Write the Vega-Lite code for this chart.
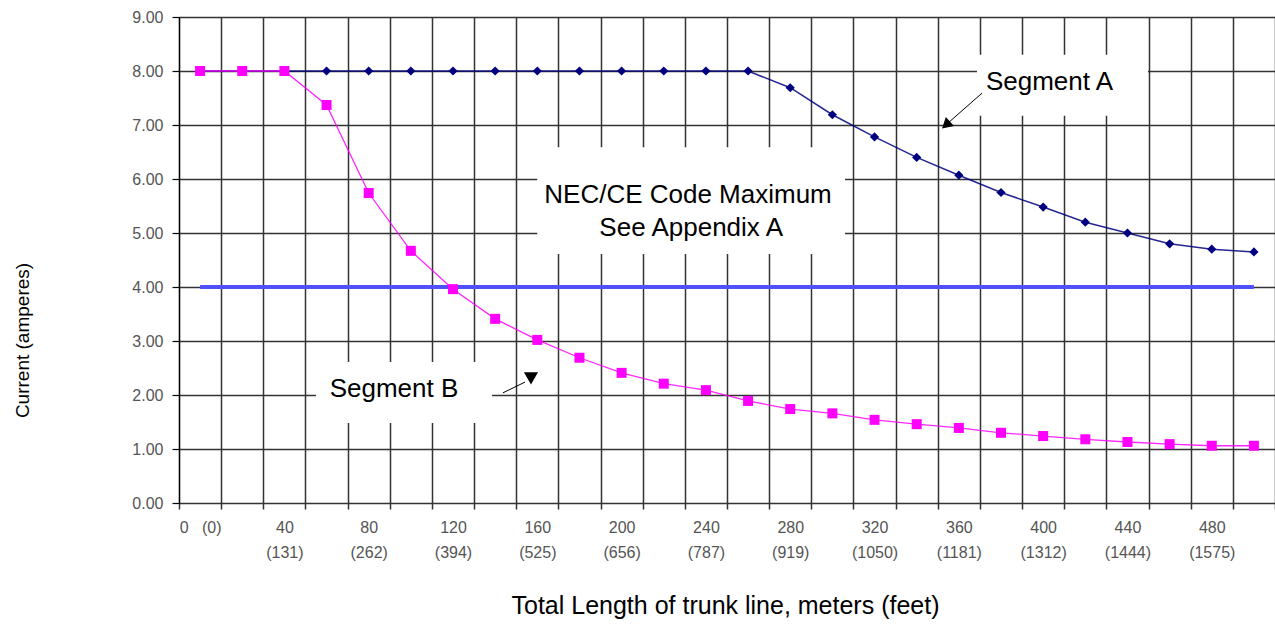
{
  "$schema": "https://vega.github.io/schema/vega-lite/v6.json",
  "width": 1096,
  "height": 486,
  "autosize": {"type": "none"},
  "padding": {"left": 179, "top": 17, "right": 0, "bottom": 130},
  "background": "white",
  "config": {"view": {"stroke": null}, "font": "Liberation Sans"},
  "datasets": {
    "series": [
      {"m": 0, "seg": "A", "amps": 8.0}, {"m": 20, "seg": "A", "amps": 8.0}, {"m": 40, "seg": "A", "amps": 8.0},
      {"m": 60, "seg": "A", "amps": 8.0}, {"m": 80, "seg": "A", "amps": 8.0}, {"m": 100, "seg": "A", "amps": 8.0},
      {"m": 120, "seg": "A", "amps": 8.0}, {"m": 140, "seg": "A", "amps": 8.0}, {"m": 160, "seg": "A", "amps": 8.0},
      {"m": 180, "seg": "A", "amps": 8.0}, {"m": 200, "seg": "A", "amps": 8.0}, {"m": 220, "seg": "A", "amps": 8.0},
      {"m": 240, "seg": "A", "amps": 8.0}, {"m": 260, "seg": "A", "amps": 8.0}, {"m": 280, "seg": "A", "amps": 7.69},
      {"m": 300, "seg": "A", "amps": 7.19}, {"m": 320, "seg": "A", "amps": 6.78}, {"m": 340, "seg": "A", "amps": 6.40},
      {"m": 360, "seg": "A", "amps": 6.07}, {"m": 380, "seg": "A", "amps": 5.75}, {"m": 400, "seg": "A", "amps": 5.48},
      {"m": 420, "seg": "A", "amps": 5.20}, {"m": 440, "seg": "A", "amps": 5.00}, {"m": 460, "seg": "A", "amps": 4.80},
      {"m": 480, "seg": "A", "amps": 4.70}, {"m": 500, "seg": "A", "amps": 4.65},
      {"m": 0, "seg": "B", "amps": 8.0}, {"m": 20, "seg": "B", "amps": 8.0}, {"m": 40, "seg": "B", "amps": 8.0},
      {"m": 60, "seg": "B", "amps": 7.37}, {"m": 80, "seg": "B", "amps": 5.74}, {"m": 100, "seg": "B", "amps": 4.67},
      {"m": 120, "seg": "B", "amps": 3.96}, {"m": 140, "seg": "B", "amps": 3.41}, {"m": 160, "seg": "B", "amps": 3.02},
      {"m": 180, "seg": "B", "amps": 2.69}, {"m": 200, "seg": "B", "amps": 2.41}, {"m": 220, "seg": "B", "amps": 2.21},
      {"m": 240, "seg": "B", "amps": 2.09}, {"m": 260, "seg": "B", "amps": 1.89}, {"m": 280, "seg": "B", "amps": 1.74},
      {"m": 300, "seg": "B", "amps": 1.66}, {"m": 320, "seg": "B", "amps": 1.54}, {"m": 340, "seg": "B", "amps": 1.46},
      {"m": 360, "seg": "B", "amps": 1.39}, {"m": 380, "seg": "B", "amps": 1.30}, {"m": 400, "seg": "B", "amps": 1.24},
      {"m": 420, "seg": "B", "amps": 1.18}, {"m": 440, "seg": "B", "amps": 1.13}, {"m": 460, "seg": "B", "amps": 1.09},
      {"m": 480, "seg": "B", "amps": 1.06}, {"m": 500, "seg": "B", "amps": 1.06}
    ],
    "nec": [{"m": 0, "amps": 4.0}, {"m": 500, "amps": 4.0}],
    "boxes": [
      {"id": "A", "m": 368.6, "m2": 449.7, "amps": 7.17, "amps2": 8.30},
      {"id": "NEC", "m": 160, "m2": 306, "amps": 4.61, "amps2": 6.59},
      {"id": "B", "m": 55, "m2": 138.5, "amps": 1.48, "amps2": 2.61}
    ],
    "notes": [
      {"label": "Segment A", "m": 403, "amps": 7.80},
      {"label": "Segment B", "m": 92, "amps": 2.11},
      {"label": "NEC/CE Code Maximum", "m": 231.5, "amps": 5.70},
      {"label": "See Appendix A", "m": 233, "amps": 5.09}
    ],
    "arrows": [
      {"id": "A", "m": 371.0, "amps": 7.59}, {"id": "A", "m": 354.4, "amps": 7.02},
      {"id": "B", "m": 143.7, "amps": 2.04}, {"id": "B", "m": 154.2, "amps": 2.24}
    ],
    "heads": [
      {"id": "A", "m": 353.9, "amps": 7.0},
      {"id": "B", "m": 157.0, "amps": 2.31}
    ]
  },
  "encoding": {
    "x": {
      "field": "m", "type": "quantitative",
      "scale": {"domain": [-10, 510], "nice": false, "zero": false},
      "axis": {
        "values": [-10, 0, 10, 20, 30, 40, 50, 60, 70, 80, 90, 100, 110, 120, 130, 140, 150, 160, 170, 180, 190, 200, 210, 220, 230, 240, 250, 260, 270, 280, 290, 300, 310, 320, 330, 340, 350, 360, 370, 380, 390, 400, 410, 420, 430, 440, 450, 460, 470, 480, 490, 500, 510],
        "title": "Total Length of trunk line, meters (feet)",
        "titleFont": "Liberation Sans", "titleFontSize": 25, "titleFontWeight": "normal", "titleColor": "black",
        "titleX": 546, "titleY": 102, "titleBaseline": "middle", "titleAlign": "center",
        "domain": false,
        "grid": true, "gridColor": "#333333", "gridWidth": 1.5,
        "gridOpacity": {"condition": {"test": "datum.value % 20 !== 0", "value": 1}, "value": 0},
        "ticks": true, "tickSize": 6, "tickColor": "#333333", "tickWidth": 1.5,
        "tickOpacity": {"condition": {"test": "datum.value % 20 !== 0", "value": 1}, "value": 0},
        "labelExpr": "datum.value === 0 ? '0\u00a0\u00a0\u00a0(0)' : (datum.value % 40 === 0 ? [format(datum.value, 'd'), '(' + format(round(datum.value * 3.2808), 'd') + ')'] : '')",
        "labelFont": "Liberation Sans", "labelFontSize": 16, "labelColor": "#555555",
        "labelPadding": 10, "labelLineHeight": 25, "labelOverlap": false, "labelFlush": false, "labelBound": false
      }
    },
    "y": {
      "field": "amps", "type": "quantitative",
      "scale": {"domain": [0, 9], "nice": false, "zero": true},
      "axis": {
        "values": [0, 1, 2, 3, 4, 5, 6, 7, 8, 9],
        "format": ".2f",
        "title": "Current (amperes)",
        "titleFont": "Liberation Sans", "titleFontSize": 19, "titleFontWeight": "normal", "titleColor": "black",
        "titleX": -157, "titleY": 323, "titleAngle": -90, "titleBaseline": "middle", "titleAlign": "center",
        "domain": true, "domainColor": "black", "domainWidth": 1.2,
        "grid": true, "gridColor": "#333333", "gridWidth": 1.5,
        "ticks": true, "tickSize": 7, "tickColor": "black", "tickWidth": 1.2,
        "labelFont": "Liberation Sans", "labelFontSize": 16, "labelColor": "#555555", "labelPadding": 9
      }
    }
  },
  "layer": [
    {
      "data": {"name": "boxes"},
      "mark": {"type": "rect", "fill": "white", "stroke": null},
      "encoding": {"x2": {"field": "m2"}, "y2": {"field": "amps2"}}
    },
    {
      "data": {"name": "nec"},
      "mark": {"type": "line", "color": "#5050ff", "strokeWidth": 4},
      "encoding": {}
    },
    {
      "data": {"name": "series"},
      "transform": [{"filter": "datum.seg === 'A'"}],
      "mark": {"type": "line", "color": "#000080", "strokeWidth": 1.5, "opacity": 0.85},
      "encoding": {}
    },
    {
      "data": {"name": "series"},
      "transform": [{"filter": "datum.seg === 'A'"}],
      "mark": {"type": "point", "shape": "diamond", "filled": true, "color": "#000080", "size": 85, "opacity": 1},
      "encoding": {}
    },
    {
      "data": {"name": "series"},
      "transform": [{"filter": "datum.seg === 'B'"}],
      "mark": {"type": "line", "color": "#ff00ff", "strokeWidth": 1.3, "opacity": 0.85},
      "encoding": {}
    },
    {
      "data": {"name": "series"},
      "transform": [{"filter": "datum.seg === 'B'"}],
      "mark": {"type": "point", "shape": "square", "filled": true, "color": "#ff00ff", "size": 100, "opacity": 1},
      "encoding": {}
    },
    {
      "data": {"name": "notes"},
      "mark": {"type": "text", "font": "Liberation Sans", "fontSize": 26, "color": "black", "align": "center", "baseline": "middle"},
      "encoding": {"text": {"field": "label"}}
    },
    {
      "data": {"name": "arrows"},
      "mark": {"type": "line", "color": "black", "strokeWidth": 1},
      "encoding": {"detail": {"field": "id"}}
    },
    {
      "data": {"name": "heads"},
      "transform": [{"filter": "datum.id === 'A'"}],
      "mark": {"type": "point", "shape": "triangle-down", "filled": true, "color": "black", "size": 150, "angle": 48, "opacity": 1},
      "encoding": {}
    },
    {
      "data": {"name": "heads"},
      "transform": [{"filter": "datum.id === 'B'"}],
      "mark": {"type": "point", "shape": "triangle-down", "filled": true, "color": "black", "size": 200, "opacity": 1},
      "encoding": {}
    }
  ]
}
